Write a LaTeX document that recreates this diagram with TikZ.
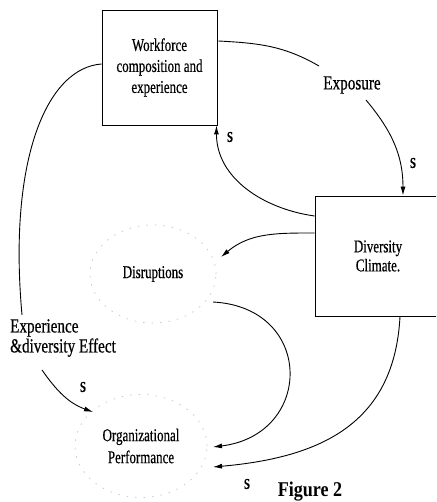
\documentclass[tikz,border=0pt]{standalone}
\usepackage{fontspec}
\setmainfont{Liberation Serif}
\newfontfamily\cf[FakeStretch=0.72,FakeBold=0.5]{Liberation Serif}
\newfontfamily\lf[FakeStretch=0.76,FakeBold=0.5]{Liberation Serif}
\newfontfamily\ff[FakeStretch=0.86]{Liberation Serif}
\usetikzlibrary{arrows.meta,shapes.geometric,calc}
\begin{document}
\begin{tikzpicture}[x=1pt,y=-1pt,
  boxnode/.style={draw, line width=0.9pt, inner sep=0pt, align=center,
    font=\cf\fontsize{18}{21}\selectfont},
  ellnode/.style={ellipse, draw=gray!45, line width=0.7pt, dash pattern=on 1.5pt off 7pt,
    inner sep=0pt, align=center, font=\cf\fontsize{18}{22}\selectfont},
  lbl/.style={inner sep=0pt, font=\lf\fontsize{20}{20}\selectfont},
  slbl/.style={inner sep=0pt, font=\lf\fontsize{21}{20}\selectfont},
  conn/.style={line width=0.9pt},
  arr/.style={line width=0.9pt, -{Latex[length=9pt,width=5pt]}}]
\fill[white] (0,0) rectangle (436,502);
\useasboundingbox (0,0) rectangle (436,502);
\clip (0,0) rectangle (436,502);

% nodes
\node[boxnode, minimum width=115pt, minimum height=115pt] (wf) at (159.5,67.5)
  {Workforce\\composition and\\experience};
\node[boxnode, minimum width=126pt, minimum height=120pt, font=\cf\fontsize{18}{19}\selectfont] (dc) at (378,256)
  {Diversity\\Climate.};
\node[ellnode, minimum width=126pt, minimum height=98pt] (dis) at (153,274) {Disruptions};
\node[ellnode, minimum width=132pt, minimum height=103pt] (op) at (141,446)
  {Organizational\\Performance};
\node[lbl] (expo) at (352,85) {Exposure};
\node[lbl, align=left] (exp) at (63,338) {Experience\\\&diversity Effect};
\node[slbl] (s1) at (230,137) {s};
\node[slbl] (s2) at (413,163) {s};
\node[slbl] (s3) at (83,387) {s};
\node[slbl] (s4) at (247,484) {s};
\node[inner sep=0pt, font=\ff\bfseries\fontsize{21}{20}\selectfont] (fig) at (310,492) {Figure 2};

% connectors
\draw[conn] ($(wf.east)+(1,-26.5)$) to[out=-3,in=150] ($(expo.center)+(-33,-19)$);
\draw[arr] ($(expo.center)+(14,15)$) to[out=-50,in=90] ($(dc.north)+(25,0)$);
\draw[arr] ($(dc.west)+(0,-40)$) to[out=172,in=-90] ($(wf.south east)+(-1,0)$);
\draw[arr] ($(dc.west)+(0,-23)$) to[out=180,in=40] ($(dis.center)+(68,-17)$);
\draw[arr] ($(dis.center)+(60,28)$) to[out=-3,in=7,looseness=1.8] ($(op.center)+(72,1)$);
\draw[arr] ($(dc.south)+(22,0)$) to[out=-93,in=5,looseness=1.15] ($(op.center)+(72,21)$);
\draw[conn] ($(wf.west)+(0,-3.5)$) .. controls +(-55,4) and +(-14,-155) .. ($(exp.center)+(-41,-23)$);
\draw[arr] ($(exp.center)+(-21,32)$) to[out=-55,in=160] ($(op.center)+(-48,-34)$);
\end{tikzpicture}
\end{document}
